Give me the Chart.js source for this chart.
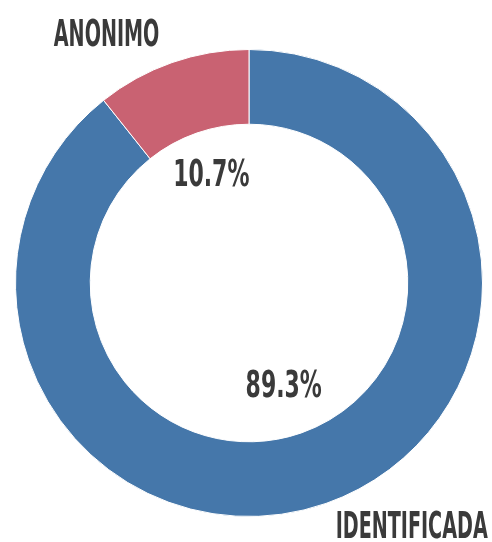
<!DOCTYPE html>
<html>
<head>
<meta charset="utf-8">
<script src="https://cdn.jsdelivr.net/npm/chart.js@4/dist/chart.umd.min.js"></script>
<style>
html,body{margin:0;padding:0;background:#fff;}
canvas{display:block;}
</style>
</head>
<body>
<canvas id="c" width="492" height="542"></canvas>
<script>
const categories = ["IDENTIFICADA", "ANONIMO"];
const values = [89.3, 10.7];
const pctLabels = ["89.3%", "10.7%"];
const colors = ["#4577aa", "#c96272"];

const FONT = 'bold 37px "DejaVu Sans Condensed", "DejaVu Sans", sans-serif';
const SQUEEZE_WORD = 0.575;
const SQUEEZE_PCT = 0.66;

function drawCondensed(ctx, text, x, y, align, squeeze) {
  ctx.save();
  ctx.font = FONT;
  ctx.textBaseline = 'middle';
  const w = ctx.measureText(text).width * squeeze;
  let left = x;
  if (align === 'center') left = x - w / 2;
  else if (align === 'right') left = x - w;
  ctx.translate(left, y);
  ctx.scale(squeeze, 1);
  ctx.textAlign = 'left';
  ctx.fillText(text, 0, 0);
  ctx.restore();
}

const labelPlugin = {
  id: 'labels',
  afterDatasetsDraw(chart) {
    const ctx = chart.ctx;
    const meta = chart.getDatasetMeta(0);
    ctx.save();
    ctx.fillStyle = '#3a3a3a';
    meta.data.forEach((arc, i) => {
      const p = arc.getProps(['x', 'y', 'startAngle', 'endAngle', 'innerRadius', 'outerRadius'], true);
      const mid = (p.startAngle + p.endAngle) / 2;
      const cx = Math.cos(mid), cy = Math.sin(mid);
      const rIn = p.innerRadius * 0.72;
      drawCondensed(ctx, pctLabels[i], p.x + cx * rIn + (cx > 0 ? -3 : 0), p.y + cy * rIn + (cy > 0 ? -4 : 1), 'center', SQUEEZE_PCT);
      const rOut = p.outerRadius * 1.125;
      const ox = p.x + cx * rOut, oy = p.y + cy * rOut;
      drawCondensed(ctx, categories[i], ox + (cx < 0 ? -3 : 0), oy + (cy < 0 ? 1 : -3), cx < 0 ? 'right' : 'left', SQUEEZE_WORD);
    });
    ctx.restore();
  }
};

new Chart(document.getElementById('c'), {
  type: 'doughnut',
  data: {
    labels: categories,
    datasets: [{
      data: values,
      backgroundColor: colors,
      borderColor: '#ffffff',
      borderWidth: 1,
      hoverOffset: 0
    }]
  },
  options: {
    responsive: false,
    animation: false,
    cutout: '68%',
    layout: { padding: { left: 15, right: 9, top: 49, bottom: 25 } },
    plugins: { legend: { display: false }, tooltip: { enabled: false } }
  },
  plugins: [labelPlugin]
});
</script>
</body>
</html>
